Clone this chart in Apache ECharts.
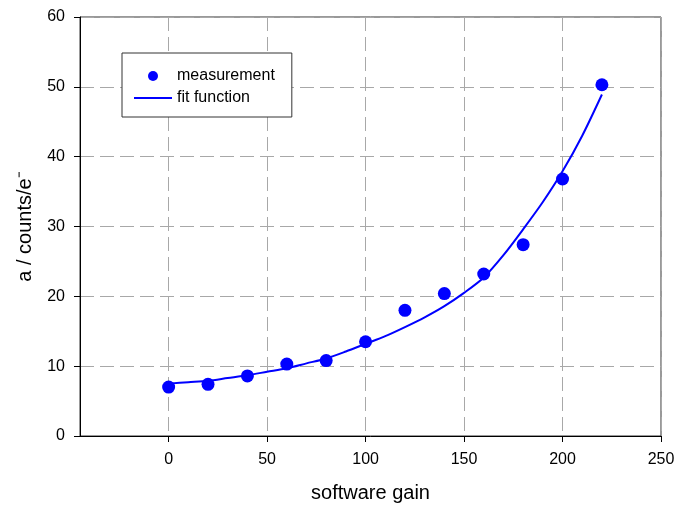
<!DOCTYPE html>
<html>
<head>
<meta charset="utf-8">
<script src="https://cdn.jsdelivr.net/npm/echarts@6/dist/echarts.min.js"></script>
<style>
  html, body { margin: 0; padding: 0; background: #fff; }
  #chart { width: 677px; height: 506px; }
</style>
</head>
<body>
<div id="chart"></div>
<script>
// Measured gain factor a versus software gain setting
const gain = [0, 20, 40, 60, 80, 100, 120, 140, 160, 180, 200, 220];
const measured = [7.0, 7.4, 8.6, 10.3, 10.8, 13.5, 18.0, 20.4, 23.2, 27.4, 36.8, 50.3];

// Fitted curve, sampled every 10 gain steps
const fitGain = [0, 10, 20, 30, 40, 50, 60, 70, 80, 90, 100, 110, 120, 130, 140, 150, 160, 170, 180, 190, 200, 210, 220];
const fitValue = [7.5, 7.7, 7.9, 8.3, 8.7, 9.2, 9.7, 10.4, 11.1, 12.1, 13.2, 14.3, 15.6, 17.0, 18.6, 20.5, 22.7, 25.9, 29.6, 33.5, 37.9, 43.0, 48.9];

// Axis ticks
const xTicks = [0, 50, 100, 150, 200, 250];
const yTicks = [0, 10, 20, 30, 40, 50, 60];

const pairs = (xs, ys) => xs.map((x, i) => [x, ys[i]]);

const FONT = 'Liberation Sans, Arial, sans-serif';
const gridDash = { color: '#a8a8a8', width: 1, type: [14, 6] };

const chart = echarts.init(document.getElementById('chart'), null, { renderer: 'canvas' });
chart.setOption({
  animation: false,
  backgroundColor: '#ffffff',
  textStyle: { fontFamily: FONT },
  grid: {
    left: 80, right: 16, top: 17, bottom: 70,
    outerBoundsMode: 'none',
    containLabel: false,
    show: true, borderColor: '#333', borderWidth: 1, backgroundColor: 'transparent'
  },
  legend: {
    orient: 'vertical',
    left: 122, top: 53,
    padding: [15, 17, 11, 11],
    itemWidth: 38, itemHeight: 10, itemGap: 6, itemTextGap: 10,
    borderColor: '#333', borderWidth: 1, backgroundColor: '#fff',
    textStyle: { fontSize: 16, color: '#000', fontFamily: FONT },
    data: [
      { name: 'measurement', icon: 'circle' },
      { name: 'fit function', itemStyle: { opacity: 0 }, lineStyle: { color: '#0000ff', width: 2 } }
    ]
  },
  xAxis: {
    type: 'value',
    min: -45, max: 250,
    name: 'software gain',
    nameLocation: 'middle',
    nameGap: 47,
    nameTextStyle: { fontSize: 20, color: '#000', fontFamily: FONT },
    axisLine: { show: true, onZero: false, lineStyle: { color: '#000', width: 1 } },
    axisTick: { show: true, inside: false, length: 6, customValues: xTicks, lineStyle: { color: '#000' } },
    axisLabel: { customValues: xTicks, fontSize: 16, color: '#000', margin: 16, fontFamily: FONT },
    splitLine: { show: true, lineStyle: gridDash }
  },
  yAxis: {
    type: 'value',
    min: yTicks[0], max: yTicks[yTicks.length - 1], interval: 10,
    name: 'a / counts/e\u207B',
    nameLocation: 'middle',
    nameGap: 45,
    nameTextStyle: { fontSize: 20, color: '#000', fontFamily: FONT },
    axisLine: { show: true, onZero: false, lineStyle: { color: '#000', width: 1 } },
    axisTick: { show: true, inside: false, length: 6, lineStyle: { color: '#000' } },
    axisLabel: { fontSize: 16, color: '#000', margin: 15, fontFamily: FONT },
    splitLine: { show: true, lineStyle: gridDash }
  },
  series: [
    {
      name: 'measurement',
      type: 'scatter',
      symbol: 'circle',
      symbolSize: 13,
      itemStyle: { color: '#0000ff', opacity: 1 },
      data: pairs(gain, measured),
      z: 3
    },
    {
      name: 'fit function',
      type: 'line',
      smooth: 0.3,
      symbol: 'none',
      showSymbol: false,
      lineStyle: { color: '#0000ff', width: 2 },
      itemStyle: { color: '#0000ff' },
      data: pairs(fitGain, fitValue),
      z: 2
    }
  ]
});
</script>
</body>
</html>
